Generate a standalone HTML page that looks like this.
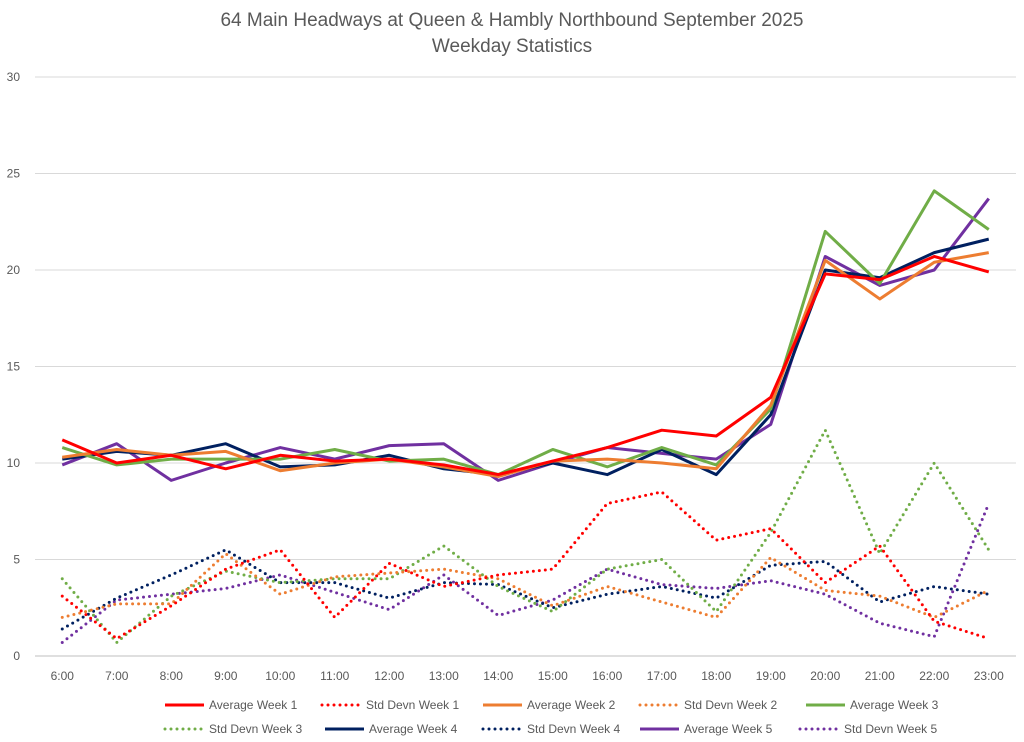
<!DOCTYPE html>
<html><head><meta charset="utf-8"><style>
body{margin:0;background:#fff;font-family:"Liberation Sans",sans-serif}
svg{display:block}
</style></head><body>
<svg id="chart" width="1024" height="742" viewBox="0 0 1024 742" xmlns="http://www.w3.org/2000/svg">
<text x="512" y="26" text-anchor="middle" font-size="19" fill="#595959">64 Main Headways at Queen &amp; Hambly Northbound September 2025</text>
<text x="512" y="52" text-anchor="middle" font-size="19" fill="#595959">Weekday Statistics</text>
<g id="grid"></g><g id="series"></g><g id="legend"></g>
</svg>
<script>
const categories=["6:00","7:00","8:00","9:00","10:00","11:00","12:00","13:00","14:00","15:00","16:00","17:00","18:00","19:00","20:00","21:00","22:00","23:00"];
const yTicks=[0,5,10,15,20,25,30];
const avg1=[11.2,10.0,10.4,9.7,10.4,10.1,10.2,9.9,9.4,10.1,10.8,11.7,11.4,13.4,19.8,19.5,20.7,19.9];
const avg2=[10.3,10.7,10.4,10.6,9.6,10.0,10.2,9.8,9.3,10.1,10.2,10.0,9.7,13.0,20.5,18.5,20.4,20.9];
const avg3=[10.8,9.9,10.2,10.2,10.2,10.7,10.1,10.2,9.4,10.7,9.8,10.8,9.9,12.8,22.0,19.3,24.1,22.1];
const avg4=[10.2,10.6,10.4,11.0,9.8,9.9,10.4,9.7,9.4,10.0,9.4,10.7,9.4,12.5,20.0,19.6,20.9,21.6];
const avg5=[9.9,11.0,9.1,10.0,10.8,10.2,10.9,11.0,9.1,10.0,10.8,10.5,10.2,12.0,20.7,19.2,20.0,23.7];
const sd1=[3.1,0.9,2.6,4.5,5.5,2.0,4.8,3.6,4.2,4.5,7.9,8.5,6.0,6.6,3.8,5.7,1.8,0.9];
const sd2=[2.0,2.7,2.7,5.3,3.2,4.1,4.3,4.5,4.0,2.6,3.6,2.8,2.0,5.1,3.4,3.1,2.0,3.4];
const sd3=[4.0,0.7,3.1,4.4,3.8,4.0,4.0,5.7,3.6,2.3,4.5,5.0,2.3,6.4,11.7,5.3,10.0,5.5];
const sd4=[1.4,3.0,4.2,5.5,3.8,3.8,3.0,3.8,3.7,2.5,3.2,3.6,3.0,4.7,4.9,2.8,3.6,3.2];
const sd5=[0.7,2.9,3.2,3.5,4.2,3.3,2.4,4.2,2.1,2.9,4.5,3.7,3.5,3.9,3.2,1.7,1.0,7.9];

const NS="http://www.w3.org/2000/svg";
const X0=35,X1=1016,Y0=656,Y30=77;
const step=(X1-X0)/categories.length;
function xs(i){return X0+step*(i+0.5);}
function ys(v){return Y0-(Y0-Y30)*v/30;}
function mk(t,a,p){const e=document.createElementNS(NS,t);for(const k in a)e.setAttribute(k,a[k]);p.appendChild(e);return e;}
const grid=document.getElementById('grid');
yTicks.forEach(v=>{
  const l=mk('line',{x1:X0,x2:X1,y1:ys(v),y2:ys(v),stroke:v===0?'#bfbfbf':'#d9d9d9','stroke-width':1},grid);
  
  
  const t=mk('text',{x:20,y:ys(v)+4,'text-anchor':'end','font-size':12,fill:'#595959'},grid);
  t.textContent=v;
  
  
});
categories.forEach((c,i)=>{
  const t=mk('text',{x:xs(i),y:680,'text-anchor':'middle','font-size':12,fill:'#595959'},grid);
  t.textContent=c;
  
  
});
const series=[
 {n:"Average Week 1",d:avg1,c:"#ff0000",dot:false},
 {n:"Std Devn Week 1",d:sd1,c:"#ff0000",dot:true},
 {n:"Average Week 2",d:avg2,c:"#ed7d31",dot:false},
 {n:"Std Devn Week 2",d:sd2,c:"#ed7d31",dot:true},
 {n:"Average Week 3",d:avg3,c:"#70ad47",dot:false},
 {n:"Std Devn Week 3",d:sd3,c:"#70ad47",dot:true},
 {n:"Average Week 4",d:avg4,c:"#002060",dot:false},
 {n:"Std Devn Week 4",d:sd4,c:"#002060",dot:true},
 {n:"Average Week 5",d:avg5,c:"#7030a0",dot:false},
 {n:"Std Devn Week 5",d:sd5,c:"#7030a0",dot:true}];
const sg=document.getElementById('series');
function style(s){return s.dot?{stroke:s.c,'stroke-width':3,'stroke-dasharray':'0 6','stroke-linecap':'round',fill:'none'}:{stroke:s.c,'stroke-width':3,fill:'none','stroke-linejoin':'round'};}
series.slice().reverse().forEach(s=>{
  const a=style(s);a.points=s.d.map((v,i)=>xs(i)+','+ys(v)).join(' ');
  const p=mk('polyline',a,sg);
  
  
});
const lg=document.getElementById('legend');
const pos=[[165,705],[322,705],[483,705],[640,705],[806,705],[165,729],[325,729],[483,729],[640,729],[800,729]];
series.forEach((s,i)=>{
  const [x,y]=pos[i];
  const g=mk('g',{},lg);
  
  
  const a=style(s);a.x1=x;a.x2=x+39;a.y1=y;a.y2=y;mk('line',a,g);
  const t=mk('text',{x:x+44,y:y+4,'font-size':12,fill:'#595959'},g);t.textContent=s.n;
});
</script>
</body></html>
